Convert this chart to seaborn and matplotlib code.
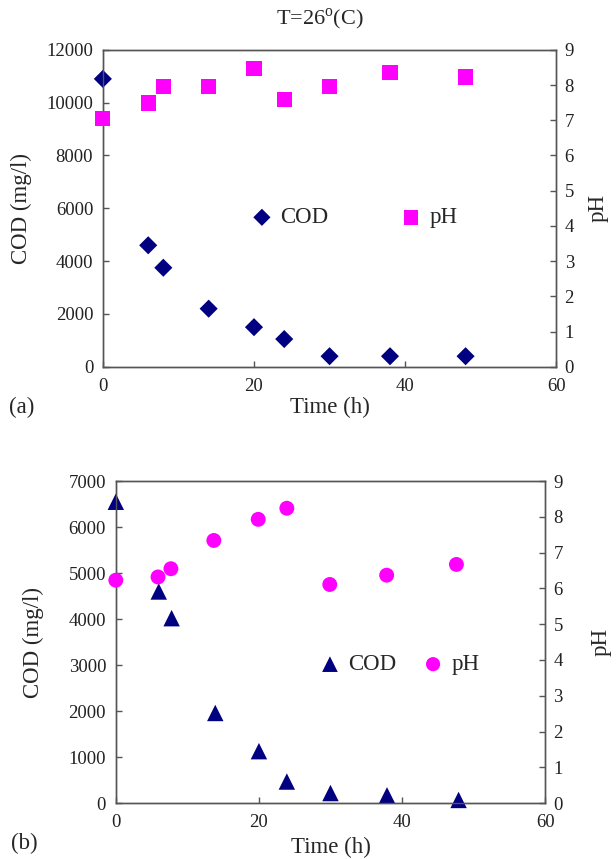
import numpy as np
import pandas as pd
import matplotlib
matplotlib.use('Agg')
import matplotlib.pyplot as plt
import seaborn as sns

sns.set_style('ticks')
plt.rcParams['font.family'] = ['Liberation Serif', 'DejaVu Serif']
plt.rcParams['mathtext.fontset'] = 'custom'
plt.rcParams['mathtext.rm'] = 'Liberation Serif'
plt.rcParams['xtick.direction'] = 'in'
plt.rcParams['ytick.direction'] = 'in'

# (a) T = 26 C
time_a = [0, 6, 8, 14, 20, 24, 30, 38, 48]
cod_a = [10900, 4600, 3750, 2200, 1500, 1050, 400, 400, 400]
ph_a = [7.04, 7.49, 7.96, 7.96, 8.46, 7.6, 7.96, 8.36, 8.23]

# (b)
time_b_cod = [0, 6, 7.8, 13.9, 20, 23.9, 30, 37.9, 47.9]
cod_b = [6550, 4600, 4020, 1960, 1130, 470, 220, 170, 70]
time_b_ph = [0, 5.9, 7.7, 13.7, 19.9, 23.9, 29.9, 37.85, 47.6]
ph_b = [6.23, 6.32, 6.55, 7.34, 7.93, 8.24, 6.11, 6.37, 6.67]

navy = '#000080'
magenta = '#FF00FF'
frame = '#555555'
tick_fs = 13.5
label_fs = 16.5

fig = plt.figure(figsize=(6.16, 8.59), dpi=100)
ax1 = fig.add_axes([0.167, 0.573, 0.736, 0.369])
ax3 = fig.add_axes([0.188, 0.065, 0.697, 0.375])


def style_axes(ax, ax2, ymax, ystep, ylab_x, rlab_x, xlab_y):
    ax.set_xlim(0, 60)
    ax.set_xticks([0, 20, 40, 60])
    ax.set_ylim(0, ymax)
    ax.set_yticks(np.arange(0, ymax + 1, ystep))
    ax2.set_ylim(0, 9)
    ax2.set_yticks(range(10))
    for a in (ax, ax2):
        for s in a.spines.values():
            s.set_color(frame)
            s.set_linewidth(1.0)
        a.tick_params(labelcolor='#222222', color=frame, labelsize=tick_fs,
                      length=4, width=1.0)
    ax.tick_params(axis='x', pad=8)
    ax.tick_params(axis='y', pad=7)
    ax2.tick_params(axis='y', pad=6)
    ax.set_xlabel('Time (h)', fontsize=label_fs, va='center')
    ax.set_ylabel('COD (mg/l)', fontsize=label_fs, va='center', ha='center')
    ax2.set_ylabel('pH', fontsize=label_fs, rotation=90, va='center', ha='center')
    ax.xaxis.set_label_coords(0.5, xlab_y)
    ax.yaxis.set_label_coords(ylab_x, 0.5)
    ax2.yaxis.set_label_coords(rlab_x, 0.5)


# ---- panel (a)
ax2 = ax1.twinx()
sns.scatterplot(x=time_a, y=cod_a, ax=ax1, marker='D', color=navy, s=85,
                edgecolor='none', label='COD', legend=False, clip_on=False, zorder=5)
sns.scatterplot(x=time_a, y=ph_a, ax=ax2, marker='s', color=magenta, s=120,
                edgecolor='none', label='pH', legend=False, clip_on=False, zorder=5)
style_axes(ax1, ax2, 12000, 2000, -0.179, 1.093, -0.129)
h1, l1 = ax1.get_legend_handles_labels()
h2, l2 = ax2.get_legend_handles_labels()
ax2.legend(h1 + h2, ['COD', 'pH'], ncol=2, frameon=False, fontsize=label_fs,
           loc='center left', bbox_to_anchor=(0.28, 0.47), columnspacing=3.1,
           handlelength=1.0, handletextpad=0.3, markerscale=0.95)
fig.text(0.52, 0.978, 'T=26$^{\\rm o}$(C)', ha='center', va='center', fontsize=16)
fig.text(0.015, 0.526, '(a)', ha='left', va='center', fontsize=label_fs)

# ---- panel (b)
ax4 = ax3.twinx()
sns.scatterplot(x=time_b_cod, y=cod_b, ax=ax3, marker='^', color=navy, s=140,
                edgecolor='none', label='COD', legend=False, clip_on=False, zorder=5)
sns.scatterplot(x=time_b_ph, y=ph_b, ax=ax4, marker='o', color=magenta, s=115,
                edgecolor='none', label='pH', legend=False, clip_on=False, zorder=5)
style_axes(ax3, ax4, 7000, 1000, -0.193, 1.13, -0.137)
h1, l1 = ax3.get_legend_handles_labels()
h2, l2 = ax4.get_legend_handles_labels()
ax4.legend(h1 + h2, ['COD', 'pH'], ncol=2, frameon=False, fontsize=label_fs,
           loc='center left', bbox_to_anchor=(0.424, 0.43), columnspacing=1.1,
           handlelength=1.0, handletextpad=0.3, markerscale=0.95)
fig.text(0.018, 0.018, '(b)', ha='left', va='center', fontsize=label_fs)

fig.savefig('out.png', dpi=100)
